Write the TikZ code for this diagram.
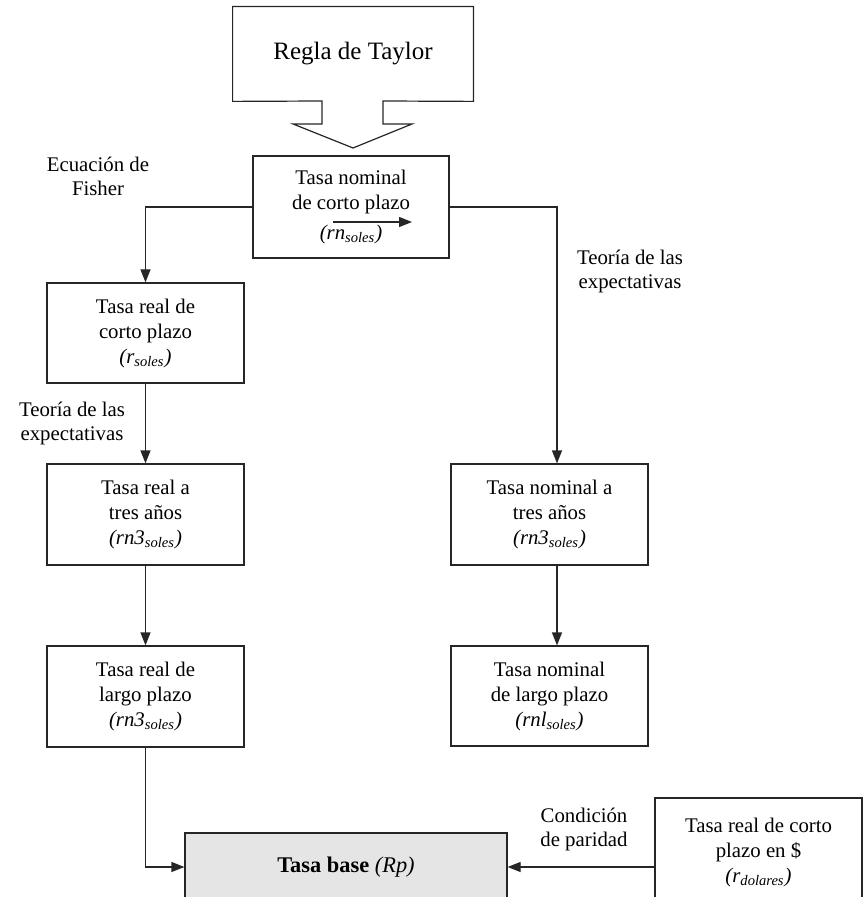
\documentclass[tikz,border=0pt]{standalone}
\usepackage{fontspec}
\setmainfont{Liberation Serif}
\usetikzlibrary{arrows.meta,calc}
\definecolor{linec}{gray}{0.15}
\definecolor{basefill}{gray}{0.9}
\begin{document}
\begin{tikzpicture}[x=0.5pt,y=-0.5pt,
  box/.style={draw=linec, line width=0.6pt, rectangle, align=center, inner sep=0pt, font=\fontsize{10.4}{12.5}\selectfont},
  arr/.style={-{Triangle[length=6.5pt,width=5pt]}, draw=linec, line width=0.6pt},
  lbl/.style={align=center, inner sep=0pt, font=\fontsize{10.4}{12}\selectfont}]
\useasboundingbox (0,0) rectangle (865,897);

% Taylor callout
\node[inner sep=0pt, minimum width=120pt, minimum height=47pt, font=\fontsize{12.5}{15}\selectfont] (taylor) at (353,54) {Regla de Taylor};
\draw[line width=0.6pt, draw=linec] (taylor.south west) -- (taylor.north west) -- (taylor.north east) -- (taylor.south east)
  -- (383,101) -- (383,124) -- (412,124) -- (353,148) -- (293,124) -- (322,124) -- (322,101) -- cycle;

% boxes
\node[box, minimum width=98pt, minimum height=51pt] (top) at (351,207) {Tasa nominal\\de corto plazo\\[2.5pt]\textit{(rn\textsubscript{soles})}};
\node[box, minimum width=98.5pt, minimum height=50pt] (rcp) at (145.5,333) {Tasa real de\\corto plazo\\\textit{(r\textsubscript{soles})}};
\node[box, minimum width=98.5pt, minimum height=50.5pt] (r3) at (145.5,514.5) {Tasa real a\\tres años\\\textit{(rn3\textsubscript{soles})}};
\node[box, minimum width=98.5pt, minimum height=50.5pt] (rl) at (145.5,696.5) {Tasa real de\\largo plazo\\\textit{(rn3\textsubscript{soles})}};
\node[box, minimum width=98.5pt, minimum height=50.5pt] (n3) at (549.5,514.5) {Tasa nominal a\\tres años\\\textit{(rn3\textsubscript{soles})}};
\node[box, minimum width=98.5pt, minimum height=50pt] (nl) at (549.5,696) {Tasa nominal\\de largo plazo\\\textit{(rnl\textsubscript{soles})}};
\node[box, fill=basefill, minimum width=161pt, minimum height=34pt, font=\fontsize{11.2}{13}\selectfont] (base) at (346,867) {\textbf{Tasa base} \textit{(Rp)}};
\node[box, minimum width=103.5pt, minimum height=54pt] (dol) at (758.5,852) {Tasa real de corto\\plazo en \$\\\textit{(r\textsubscript{dolares})}};

% inner arrow
\coordinate (ia) at (333,222);
\coordinate (ib) at (412,222);
\draw[arr] (ia) -- (ib);

% connectors
\draw[arr] (top.west) -| (rcp.north);
\draw[arr] (top.east) -| ([xshift=3.75pt]n3.north);
\draw[arr] (rcp.south) -- (r3.north);
\draw[arr] (r3.south) -- (rl.north);
\draw[arr] ([xshift=3.75pt]n3.south) -- ([xshift=3.75pt]nl.north);
\draw[arr] (rl.south) |- (base.west);
\draw[arr] (dol.west |- base.east) -- (base.east);

% labels
\node[lbl] (fisher) at (98,176.5) {Ecuación de\\Fisher};
\node[lbl] (teo1) at (72,423) {Teoría de las\\expectativas};
\node[lbl] (teo2) at (630,271) {Teoría de las\\expectativas};
\node[lbl] (cond) at (584,829.5) {Condición\\de paridad};
\end{tikzpicture}
\end{document}
